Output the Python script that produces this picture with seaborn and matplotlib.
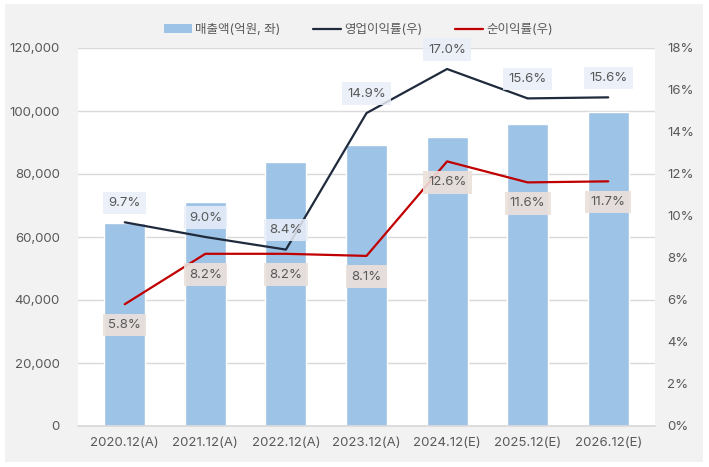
import numpy as np
import pandas as pd
import matplotlib.pyplot as plt
import seaborn as sns
from matplotlib.patches import Rectangle, Patch
from matplotlib.lines import Line2D
from matplotlib.ticker import FuncFormatter

# 데이터
periods = ['2020.12(A)', '2021.12(A)', '2022.12(A)', '2023.12(A)', '2024.12(E)', '2025.12(E)', '2026.12(E)']
sales = [64600, 71200, 83900, 89300, 91800, 95900, 99800]
op_margin = [9.7, 9.0, 8.4, 14.9, 17.0, 15.6, 15.65]
net_margin = [5.8, 8.2, 8.2, 8.1, 12.6, 11.6, 11.65]
op_labels = ['9.7%', '9.0%', '8.4%', '14.9%', '17.0%', '15.6%', '15.6%']
net_labels = ['5.8%', '8.2%', '8.2%', '8.1%', '12.6%', '11.6%', '11.7%']

sns.set_theme(style="white")
plt.rcParams['font.family'] = ['Inter', 'Noto Sans CJK KR', 'DejaVu Sans']

c_bar = '#9dc3e6'
c_op = '#1f2a3c'
c_net = '#c00000'
c_txt = '#595959'

df = pd.DataFrame({'period': periods, 'sales': sales})

fig = plt.figure(figsize=(7.09, 4.67), dpi=100)
fig.patch.set_facecolor('white')
fig.patches.append(Rectangle((5 / 709, 5 / 467), 698 / 709, 458 / 467,
                             transform=fig.transFigure, facecolor='#f2f2f2',
                             edgecolor='none', zorder=-10))

ax = fig.add_axes([78 / 709, 41 / 467, 577 / 709, 378 / 467])
ax.set_facecolor('white')
sns.barplot(data=df, x='period', y='sales', color=c_bar, width=0.51,
            saturation=1, ax=ax, zorder=2)
ax.set_ylim(0, 120000)
ax.set_yticks(np.arange(0, 120001, 20000))
ax.yaxis.set_major_formatter(FuncFormatter(lambda v, p: f'{int(v):,}'))
ax.set_xlabel('')
ax.set_ylabel('')
ax.grid(axis='y', color='#d9d9d9', linewidth=1, zorder=0)
ax.set_axisbelow(True)
for s in ['top', 'right', 'left']:
    ax.spines[s].set_visible(False)
ax.spines['bottom'].set_color('#d9d9d9')
ax.tick_params(axis='both', length=0, labelsize=9.5, colors=c_txt)
ax.tick_params(axis='x', pad=8)
ax.tick_params(axis='y', pad=13)

ax2 = ax.twinx()
x = np.arange(len(periods))
sns.lineplot(x=x, y=op_margin, color=c_op, linewidth=1.6, ax=ax2)
sns.lineplot(x=x, y=net_margin, color=c_net, linewidth=1.6, ax=ax2)
ax2.set_ylim(0, 18)
ax2.set_yticks(np.arange(0, 19, 2))
ax2.yaxis.set_major_formatter(FuncFormatter(lambda v, p: f'{int(v)}%'))
for s in ['top', 'right', 'left', 'bottom']:
    ax2.spines[s].set_visible(False)
ax2.tick_params(axis='y', length=0, labelsize=9.5, colors=c_txt, pad=9)
ax2.set_xlim(ax.get_xlim())

for xi, v, t in zip(x, op_margin, op_labels):
    ax2.annotate(t, (xi, v), xytext=(0, 14), textcoords='offset points',
                 ha='center', va='center', fontsize=9.5, color=c_txt,
                 bbox=dict(boxstyle='square,pad=0.4', facecolor='#e9eef8',
                           edgecolor='none', alpha=0.85))
for xi, v, t in zip(x, net_margin, net_labels):
    ax2.annotate(t, (xi, v), xytext=(0, -15), textcoords='offset points',
                 ha='center', va='center', fontsize=9.5, color=c_txt,
                 bbox=dict(boxstyle='square,pad=0.4', facecolor='#ece0da',
                           edgecolor='none', alpha=0.9))

handles = [Patch(facecolor=c_bar, edgecolor='none'),
           Line2D([0], [0], color=c_op, linewidth=1.6),
           Line2D([0], [0], color=c_net, linewidth=1.6)]
fig.legend(handles, ['매출액(억원, 좌)', '영업이익률(우)', '순이익률(우)'],
           loc='center', bbox_to_anchor=(0.506, 1 - 30 / 467), ncol=3,
           frameon=False, fontsize=9, labelcolor=c_txt,
           columnspacing=2.6, handlelength=2.2, handletextpad=0.3)

fig.savefig('out.png', dpi=100)
